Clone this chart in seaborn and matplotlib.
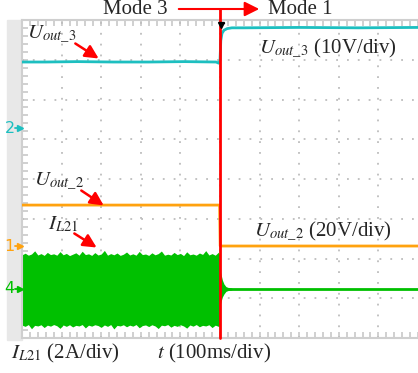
import numpy as np
import pandas as pd
import matplotlib
matplotlib.use("Agg")
import matplotlib.pyplot as plt
import seaborn as sns
from matplotlib.patches import Rectangle, FancyArrowPatch

sns.set_theme(style="white")
plt.rcParams["font.family"] = ["Liberation Serif", "DejaVu Serif"]
plt.rcParams["mathtext.fontset"] = "stix"

# ---------------- data (time in ms, physical units) ----------------
# channel ground levels (in screen divisions) and scales (units/div)
ch2_offset, ch2_scale = 5.283, 10.0   # Uout_3, 10 V/div
ch1_offset, ch1_scale = 2.314, 20.0   # Uout_2, 20 V/div
ch4_offset, ch4_scale = 1.233, 2.0    # IL21, 2 A/div

u3_t = [0, 60, 140, 230, 320, 410, 490, 497, 500, 502, 505, 510, 518, 530, 560, 700, 850, 1000]
u3_v = [16.6, 16.6, 16.7, 16.6, 16.6, 16.7, 16.6, 16.3, 17.0, 22.0, 23.8, 24.6, 25.0, 25.2, 25.2, 25.3, 25.2, 25.3]

u2_t = [0, 120, 250, 380, 499, 500.5, 600, 800, 1000]
u2_v = [20.6, 20.6, 20.6, 20.6, 20.6, 0.0, 0.0, 0.0, 0.0]

il_env_t = [0, 8, 16, 24, 32, 40, 48, 56, 64, 72, 80, 88, 96, 104, 112, 120, 128,
            136, 144, 152, 160, 168, 176, 184, 192, 200, 208, 216, 224, 232, 240,
            248, 256, 264, 272, 280, 288, 296, 304, 312, 320, 328, 336, 344, 352,
            360, 368, 376, 384, 392, 400, 408, 416, 424, 432, 440, 448, 456, 464,
            472, 480, 488, 496, 499]
il_upper = [1.72, 1.80, 1.70, 1.76, 1.92, 1.71, 1.78, 1.69, 1.84, 1.73, 1.77, 1.70,
            1.88, 1.72, 1.79, 1.68, 1.75, 1.82, 1.70, 1.90, 1.73, 1.77, 1.69, 1.83,
            1.71, 1.76, 1.94, 1.70, 1.78, 1.72, 1.81, 1.69, 1.75, 1.86, 1.71, 1.77,
            1.70, 1.89, 1.73, 1.76, 1.69, 1.82, 1.72, 1.78, 1.91, 1.70, 1.75, 1.71,
            1.84, 1.73, 1.79, 1.68, 1.87, 1.72, 1.76, 1.70, 1.81, 1.74, 1.93, 1.71,
            1.78, 1.70, 1.85, 1.74]
il_lower = [-1.82, -1.88, -1.79, -2.00, -1.83, -1.86, -1.80, -1.94, -1.82, -1.87,
            -1.79, -1.85, -1.98, -1.81, -1.88, -1.80, -1.91, -1.83, -1.86, -1.79,
            -1.96, -1.82, -1.87, -1.80, -1.84, -1.93, -1.81, -1.88, -1.79, -2.01,
            -1.83, -1.86, -1.80, -1.90, -1.82, -1.87, -1.79, -1.95, -1.84, -1.81,
            -1.89, -1.80, -1.86, -1.99, -1.82, -1.85, -1.79, -1.92, -1.83, -1.88,
            -1.80, -1.86, -1.97, -1.81, -1.87, -1.79, -1.90, -1.83, -1.86, -1.80,
            -1.94, -1.82, -1.88, -1.84]

tr_t = [500, 503, 506, 510, 515, 520, 530]
tr_upper = [0.95, 0.70, 0.45, 0.25, 0.12, 0.08, 0.05]
tr_lower = [-0.85, -0.60, -0.40, -0.25, -0.12, -0.08, -0.05]

il_t = [500, 530, 600, 700, 800, 900, 1000]
il_v = [0.0, 0.0, 0.0, 0.0, 0.0, 0.0, 0.0]

# ---------------- figure ----------------
W, H = 418, 373
fig = plt.figure(figsize=(W / 100, H / 100), dpi=100)
ax = fig.add_axes([22 / W, 35 / H, 396 / W, 318 / H])
ax.set_xlim(0, 1000)
ax.set_ylim(0, 8)

def fx(x):
    return x / W

def fy(y):
    return 1 - y / H

# grey side strip (behind the axes)
fig.patches.append(Rectangle((fx(7), fy(340)), 15 / W, 320 / H,
                             transform=fig.transFigure, color="#E8E8E8", zorder=-5))

# grid
for gx in range(100, 1000, 100):
    ax.axvline(gx, color="#BDBDBD", lw=1.3, ls=(0, (1, 5)), zorder=1)
for gy in range(1, 8):
    ax.axhline(gy, color="#BDBDBD", lw=1.3, ls=(0, (1, 5)), zorder=1)

ax.set_xticks(np.arange(0, 1001, 20), minor=True)
ax.set_yticks(np.arange(0, 8.01, 0.2), minor=True)
ax.set_xticks([])
ax.set_yticks([])
ax.tick_params(which="minor", direction="in", length=4, width=1.2, color="#C8C8C8",
               top=True, bottom=True, left=True, right=False,
               labelbottom=False, labelleft=False)
for s in ["top", "bottom", "left"]:
    ax.spines[s].set_color("#CFCFCF")
    ax.spines[s].set_linewidth(1.5)
ax.spines["right"].set_visible(False)

# traces
cyan, orange, green = "#1DBFC0", "#FFA20F", "#00C000"
df3 = pd.DataFrame({"t": u3_t, "v": np.array(u3_v) / ch2_scale + ch2_offset})
sns.lineplot(data=df3, x="t", y="v", ax=ax, color=cyan, lw=2, estimator=None, sort=False, zorder=3)
df2 = pd.DataFrame({"t": u2_t, "v": np.array(u2_v) / ch1_scale + ch1_offset})
sns.lineplot(data=df2, x="t", y="v", ax=ax, color=orange, lw=2, estimator=None, sort=False, zorder=3)

ax.fill_between(il_env_t, np.array(il_upper) / ch4_scale + ch4_offset,
                np.array(il_lower) / ch4_scale + ch4_offset, color=green, lw=0, zorder=2)
ax.fill_between(tr_t, np.array(tr_upper) / ch4_scale + ch4_offset,
                np.array(tr_lower) / ch4_scale + ch4_offset, color=green, lw=0, zorder=2)
df4 = pd.DataFrame({"t": il_t, "v": np.array(il_v) / ch4_scale + ch4_offset})
sns.lineplot(data=df4, x="t", y="v", ax=ax, color=green, lw=2, estimator=None, sort=False, zorder=3)
ax.set_xlabel("")
ax.set_ylabel("")

# channel markers on the left strip
for lab, off, col in [("2", ch2_offset, cyan), ("1", ch1_offset, orange), ("4", ch4_offset, green)]:
    ax.plot([-17, -4], [off, off], color=col, lw=1.3, clip_on=False, zorder=5)
    ax.plot([-6], [off], marker=">", ms=5, color=col, clip_on=False, zorder=5)
    ax.text(-18, off, lab, color=col, fontsize=11.5, family="DejaVu Sans",
            ha="right", va="center", clip_on=False)

# red mode-change line and arrow
ax.plot([500, 500], [0, 8 + 11 / 39.75], color="red", lw=2, clip_on=False, zorder=6)
fig.patches.append(FancyArrowPatch(
    (fx(176), fy(9)), (fx(262), fy(9)), transform=fig.transFigure,
    arrowstyle="-|>", mutation_scale=22, color="red", lw=1.5))
ax.plot([503], [7.88], marker="v", ms=5, color="black", zorder=7, clip_on=False)
ax.plot([497, 509], [7.93, 7.93], color="black", lw=1, zorder=7, clip_on=False)

fs = 15
fig.text(fx(168), fy(10), "Mode 3", fontsize=fs, ha="right", va="center")
fig.text(fx(268), fy(10), "Mode 1", fontsize=fs, ha="left", va="center")

fig.text(fx(27), fy(34), r"$U_{out\_3}$", fontsize=fs, ha="left", va="center")
fig.text(fx(34), fy(181), r"$U_{out\_2}$", fontsize=fs, ha="left", va="center")
fig.text(fx(48), fy(224), r"$I_{L21}$", fontsize=fs, ha="left", va="center")
fig.text(fx(259), fy(48), r"$U_{out\_3}$ (10V/div)", fontsize=fs, ha="left", va="center")
fig.text(fx(254), fy(231), r"$U_{out\_2}$ (20V/div)", fontsize=fs, ha="left", va="center")
fig.text(fx(11), fy(353), r"$I_{L21}$ (2A/div)", fontsize=fs, ha="left", va="center")
fig.text(fx(157), fy(353), r"$t$ (100ms/div)", fontsize=fs, ha="left", va="center")

for (x0, y0), (x1, y1) in [((73, 42), (101, 60)), ((79, 189), (106, 207)), ((72, 232), (99, 249))]:
    fig.patches.append(FancyArrowPatch(
        (fx(x0), fy(y0)), (fx(x1), fy(y1)), transform=fig.transFigure,
        arrowstyle="-|>", mutation_scale=20, color="red", lw=1.8))

fig.savefig("out.png", dpi=100, facecolor="white")
